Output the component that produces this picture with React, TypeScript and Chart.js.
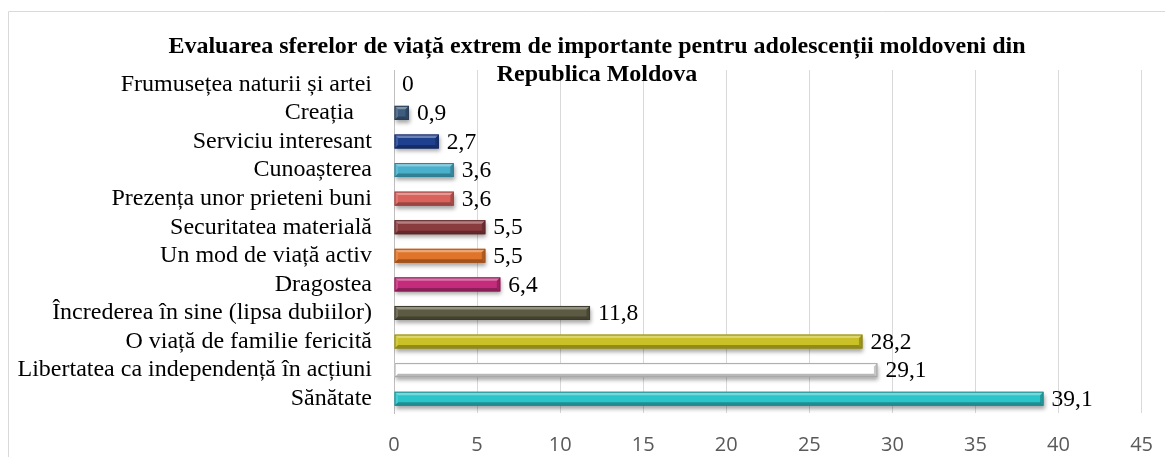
import React, { useEffect, useRef } from "react";
import { Chart, registerables } from "chart.js";
Chart.register(...registerables);

const titleLines = [
  "Evaluarea sferelor de viață extrem de importante pentru adolescenții moldoveni din",
  "Republica Moldova",
];

const categories = [
  "Frumusețea naturii și artei",
  "Creația   ",
  "Serviciu interesant",
  "Cunoașterea",
  "Prezența unor prieteni buni",
  "Securitatea materială",
  "Un mod de viață activ",
  "Dragostea",
  "Încrederea în sine (lipsa dubiilor)",
  "O viață de familie fericită",
  "Libertatea ca independență în acțiuni",
  "Sănătate",
];

const values = [0, 0.9, 2.7, 3.6, 3.6, 5.5, 5.5, 6.4, 11.8, 28.2, 29.1, 39.1];

const barColors = [
  "#3E5C7E",
  "#3E5C7E",
  "#1F3F8F",
  "#48B0CA",
  "#D9625D",
  "#8A3B3E",
  "#E0742A",
  "#C42B7B",
  "#5C5A42",
  "#C9C127",
  "#FFFFFF",
  "#2BC4C9",
];

const borderColors = [
  "#2A3F58",
  "#2A3F58",
  "#132A60",
  "#2E7F93",
  "#A0403C",
  "#5E2629",
  "#A5521C",
  "#8A1D56",
  "#3C3A2A",
  "#8E8816",
  "#A6A6A6",
  "#1D8A8E",
];

const xMin = 0;
const xMax = 45;
const xStep = 5;

const serif = "'Liberation Serif', 'Times New Roman', serif";

const fmt = (v: number) => String(v).replace(".", ",");

const framePlugin = {
  id: "frame",
  beforeDraw(chart: any) {
    const { ctx, width, height } = chart;
    ctx.save();
    ctx.strokeStyle = "#d9d9d9";
    ctx.lineWidth = 1;
    ctx.beginPath();
    ctx.moveTo(0.5, height + 5);
    ctx.lineTo(0.5, 3.5);
    ctx.lineTo(width + 5, 3.5);
    ctx.stroke();
    ctx.restore();
  },
};

const shadowPlugin = {
  id: "barShadow",
  beforeDatasetsDraw(chart: any) {
    const ctx = chart.ctx;
    ctx.save();
    ctx.shadowColor = "rgba(0,0,0,0.35)";
    ctx.shadowBlur = 4;
    ctx.shadowOffsetX = 1;
    ctx.shadowOffsetY = 3;
  },
  afterDatasetsDraw(chart: any) {
    const ctx = chart.ctx;
    ctx.restore();
    const meta = chart.getDatasetMeta(0);
    ctx.save();
    meta.data.forEach((el: any, i: number) => {
      const left = Math.min(el.base, el.x);
      const right = Math.max(el.base, el.x);
      const w = right - left;
      const top = el.y - el.height / 2;
      const bottom = el.y + el.height / 2;
      if (w > 1) {
        const b = Math.min(3.5, w / 2);
        ctx.fillStyle = "rgba(255,255,255,0.35)";
        ctx.beginPath();
        ctx.moveTo(left, top);
        ctx.lineTo(right, top);
        ctx.lineTo(right - b, top + b);
        ctx.lineTo(left + b, top + b);
        ctx.closePath();
        ctx.fill();
        ctx.fillStyle = "rgba(0,0,0,0.28)";
        ctx.beginPath();
        ctx.moveTo(left, bottom);
        ctx.lineTo(right, bottom);
        ctx.lineTo(right - b, bottom - b);
        ctx.lineTo(left + b, bottom - b);
        ctx.closePath();
        ctx.fill();
        ctx.fillStyle = "rgba(0,0,0,0.22)";
        ctx.beginPath();
        ctx.moveTo(right, top);
        ctx.lineTo(right, bottom);
        ctx.lineTo(right - b, bottom - b);
        ctx.lineTo(right - b, top + b);
        ctx.closePath();
        ctx.fill();
        ctx.fillStyle = "rgba(255,255,255,0.15)";
        ctx.beginPath();
        ctx.moveTo(left, top);
        ctx.lineTo(left, bottom);
        ctx.lineTo(left + b, bottom - b);
        ctx.lineTo(left + b, top + b);
        ctx.closePath();
        ctx.fill();
        ctx.strokeStyle = borderColors[i];
        ctx.lineWidth = 1;
        ctx.strokeRect(left + 0.5, top + 0.5, w - 1, el.height - 1);
      }
    });
    ctx.fillStyle = "#000";
    ctx.font = `23.5px ${serif}`;
    ctx.textAlign = "left";
    ctx.textBaseline = "middle";
    meta.data.forEach((el: any, i: number) => {
      ctx.fillText(fmt(values[i]), el.x + 8, el.y + 1);
    });
    ctx.restore();
  },
};

const titlePlugin = {
  id: "twoLineTitle",
  afterDraw(chart: any) {
    const ctx = chart.ctx;
    ctx.save();
    ctx.fillStyle = "#000";
    ctx.font = `bold 24px ${serif}`;
    ctx.textAlign = "center";
    ctx.textBaseline = "alphabetic";
    ctx.fillText(titleLines[0], 589, 45);
    ctx.fillText(titleLines[1], 589, 73);
    ctx.restore();
  },
};

export default function App() {
  const ref = useRef<HTMLCanvasElement | null>(null);
  useEffect(() => {
    if (!ref.current) return;
    const chart = new Chart(ref.current, {
      type: "bar",
      data: {
        labels: categories,
        datasets: [
          {
            data: values,
            backgroundColor: barColors,
            borderColor: borderColors,
            borderWidth: 0,
            barPercentage: 0.49,
            categoryPercentage: 1,
          },
        ],
      },
      options: {
        indexAxis: "y",
        animation: false,
        responsive: true,
        maintainAspectRatio: false,
        layout: { padding: { top: 62, right: 27, left: 0, bottom: 0 } },
        plugins: {
          legend: { display: false },
          title: { display: false },
          tooltip: { enabled: false },
        },
        scales: {
          x: {
            min: xMin,
            max: xMax,
            ticks: {
              stepSize: xStep,
              font: { family: "'Open Sans', sans-serif", size: 20 },
              color: "#595959",
              padding: 20,
            },
            grid: { color: "#d9d9d9", drawTicks: false },
            border: { display: false },
            afterFit: (s: any) => {
              s.height = 44;
            },
          },
          y: {
            ticks: {
              autoSkip: false,
              font: { family: serif, size: 24 },
              color: "#000",
              padding: 22,
            },
            grid: { display: false, drawTicks: false },
            border: { display: true, color: "#bfbfbf" },
            afterFit: (s: any) => {
              s.width = 386;
            },
          },
        },
      },
      plugins: [framePlugin, shadowPlugin, titlePlugin],
    } as any);
    return () => chart.destroy();
  }, []);
  return (
    <div style={{ width: 1165, height: 449, position: "relative" }}>
      <canvas ref={ref} />
    </div>
  );
}
